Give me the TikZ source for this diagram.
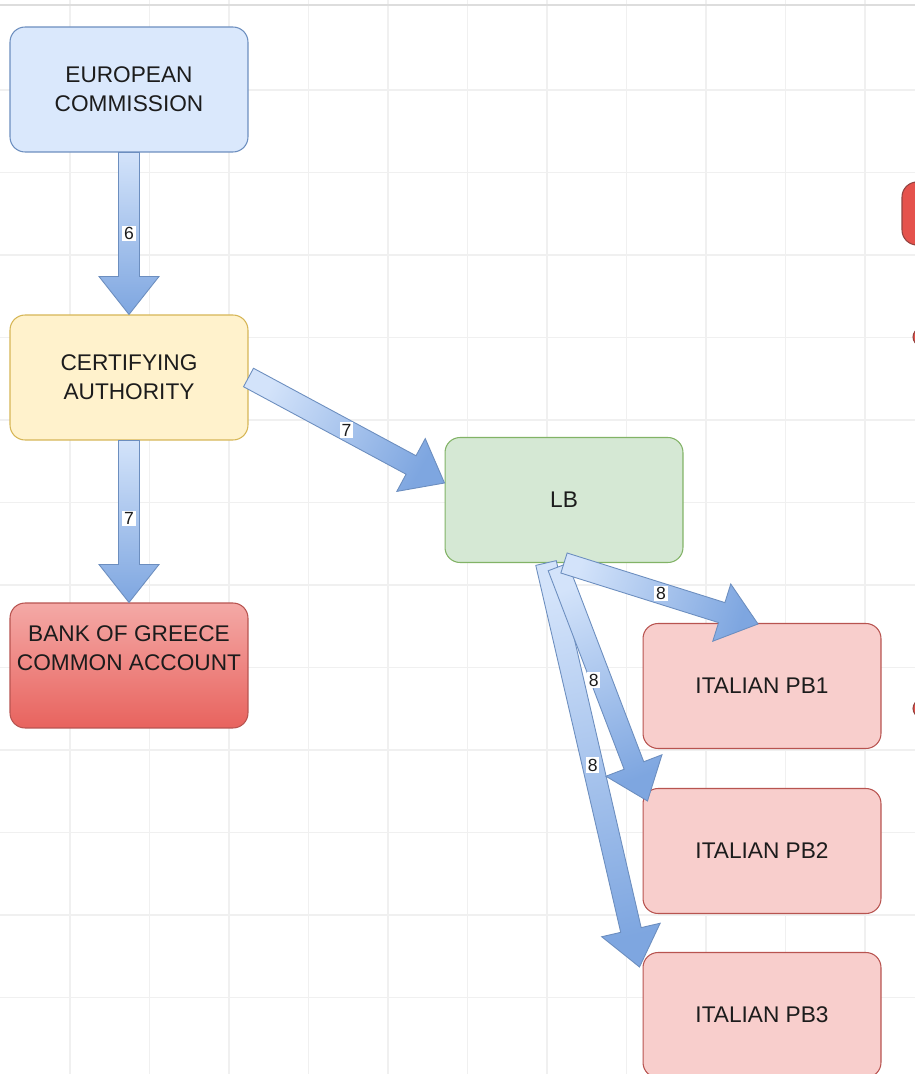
\documentclass[tikz,border=0pt]{standalone}
\usepackage{fontspec}
\setmainfont{Liberation Sans}
\usetikzlibrary{calc}
\definecolor{ecfill}{HTML}{DAE8FC}
\definecolor{ecdraw}{HTML}{6C8EBF}
\definecolor{cafill}{HTML}{FFF2CC}
\definecolor{cadraw}{HTML}{D6B656}
\definecolor{lbfill}{HTML}{D5E8D4}
\definecolor{lbdraw}{HTML}{82B366}
\definecolor{pbfill}{HTML}{F8CECC}
\definecolor{pbdraw}{HTML}{B85450}
\definecolor{bogtop}{HTML}{F4A9A6}
\definecolor{bogbot}{HTML}{E8635E}
\definecolor{arrlight}{HTML}{D3E3FA}
\definecolor{arrdark}{HTML}{7EA6E0}
\definecolor{gridc}{HTML}{F0F0F0}
\definecolor{txt}{HTML}{1C1C1C}
\definecolor{redshape}{HTML}{E5524C}
\newcommand\flexarrow[5]{%
  \coordinate (hb) at ($(#2)!0.76cm!(#1)$);
  \shade[draw=ecdraw, line width=0.5pt, top color=arrlight, bottom color=arrdark, shading angle=#3]
    ($(#1)!0.21cm!90:(#2)$) -- ($(hb)!0.21cm!90:(#2)$) -- ($(hb)!0.6cm!90:(#2)$) -- (#2)
    -- ($(hb)!0.6cm!-90:(#2)$) -- ($(hb)!0.21cm!-90:(#2)$) -- ($(#1)!0.21cm!-90:(#2)$) -- cycle;
  \node[lbl] at ($($(#1)!0.5!(#2)$)+(#5)$) {#4};
}
\begin{document}
\begin{tikzpicture}[x=0.02cm,y=-0.02cm,
  box/.style={rounded corners=0.3cm, minimum width=4.76cm, minimum height=2.5cm,
    line width=0.6pt, align=center, text=txt, font=\fontsize{12.9}{16.4}\selectfont},
  lbl/.style={fill=white, inner sep=1pt, text=txt, font=\fontsize{10}{12}\selectfont},
  gridline/.style={draw=gridc, line width=0.6pt}]
\useasboundingbox (0,0) rectangle (915,1074);
\begin{scope}
\clip (0,0) rectangle (915,1074);
\fill[white] (0,0) rectangle (915,1074);
\foreach \i in {0,...,10} {\draw[gridline] ({70+79.5*\i},0) -- ++(0,1074);}
\foreach \i in {0,...,12} {\draw[gridline] (0,{90+82.5*\i}) -- ++(915,0);}
\draw[draw=gridc!92!black, line width=0.6pt] (0,5) -- (915,5);

% partial shapes at the right edge
\draw[fill=redshape, draw=pbdraw!80!black, rounded corners=0.3cm, line width=0.6pt] (902,182) rectangle (980,245);
\draw[fill=redshape, draw=pbdraw!80!black, line width=0.6pt] (940,337) ellipse [x radius=27, y radius=15];
\draw[fill=redshape, draw=pbdraw!80!black, line width=0.6pt] (940,708.5) ellipse [x radius=27, y radius=15];

% nodes
\node[box, fill=ecfill, draw=ecdraw] (ec) at (129,89.5) {EUROPEAN\\COMMISSION};
\node[box, fill=cafill, draw=cadraw] (ca) at (129,377.5) {CERTIFYING\\AUTHORITY};
\node[box, top color=bogtop, bottom color=bogbot, draw=pbdraw] (bog) at (129,665.5) {};
\node[text=txt, align=center, font=\fontsize{12.9}{16.4}\selectfont] (bogtext) at ($(bog)+(0,-17)$) {BANK OF GREECE\\COMMON ACCOUNT};
\node[box, fill=lbfill, draw=lbdraw] (lb) at (564,500) {LB};
\node[box, fill=pbfill, draw=pbdraw] (pb1) at (762,686) {ITALIAN PB1};
\node[box, fill=pbfill, draw=pbdraw] (pb2) at (762,851) {ITALIAN PB2};
\node[box, fill=pbfill, draw=pbdraw] (pb3) at (762,1015) {ITALIAN PB3};

% connector end points
\coordinate (a3) at (ca.east);
\coordinate (b3) at ($(lb.west)+(0,-17)$);
\coordinate (a4) at (lb.south);
\coordinate (b4) at ($(pb1.north)+(-4,1)$);
\coordinate (a5) at ($(lb.south)+(-6,4)$);
\coordinate (b5) at ($(pb2.north west)+(5,13)$);
\coordinate (a6) at ($(lb.south)+(-18,0)$);
\coordinate (b6) at ($(pb3.north west)+(-3,15)$);

% block arrows
\flexarrow{ec.south}{ca.north}{0}{6}{0,0}
\flexarrow{ca.south}{bog.north}{0}{7}{0,-3}
\flexarrow{a3}{b3}{61.7}{7}{0,0}
\flexarrow{a6}{b6}{13}{8}{0,0}
\flexarrow{a5}{b5}{20.9}{8}{-9,-4}
\flexarrow{a4}{b4}{72.1}{8}{0,0}
\end{scope}
\end{tikzpicture}
\end{document}
